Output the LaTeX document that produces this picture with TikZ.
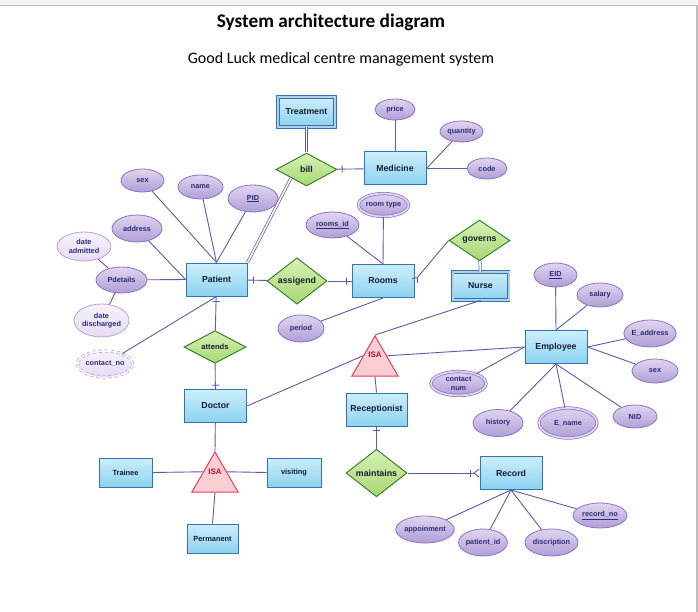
\documentclass[tikz,border=0pt]{standalone}
\usepackage{fontspec}
\setmainfont{Liberation Sans}
\newfontfamily\calibri{Carlito}
\usepackage{tikz}
\usetikzlibrary{arrows.meta, positioning, shapes.geometric}
\definecolor{edge}{RGB}{98,88,168}
\definecolor{entline}{RGB}{46,117,182}
\definecolor{enttop}{RGB}{204,238,251}
\definecolor{entbot}{RGB}{140,210,240}
\definecolor{reltop}{RGB}{216,241,180}
\definecolor{relbot}{RGB}{166,216,116}
\definecolor{relline}{RGB}{56,130,44}
\definecolor{atttop}{RGB}{224,213,241}
\definecolor{attbot}{RGB}{176,158,214}
\definecolor{attline}{RGB}{136,118,192}
\definecolor{lighttop}{RGB}{248,243,252}
\definecolor{lightbot}{RGB}{230,219,243}
\definecolor{lightline}{RGB}{184,163,214}
\definecolor{isafill}{RGB}{251,206,212}
\definecolor{isaline}{RGB}{222,64,90}
\definecolor{isatext}{RGB}{176,16,48}
\definecolor{atttext}{RGB}{40,46,116}
\definecolor{enttext}{RGB}{24,28,48}
\definecolor{framegray}{RGB}{244,244,244}
\definecolor{frameline}{RGB}{190,190,190}

\begin{document}
\begin{tikzpicture}[x=1pt, y=-1pt,
    entity/.style={draw=entline, line width=1pt, top color=enttop, bottom color=entbot,
        minimum width=62pt, minimum height=33pt, inner sep=1pt, text=enttext,
        font=\bfseries\fontsize{8.7}{10}\selectfont},
    subent/.style={entity, minimum width=53pt, minimum height=29pt,
        font=\bfseries\fontsize{7.4}{9}\selectfont},
    weak/.style={entity, double=entline!35, double distance=2pt, line width=0.8pt},
    rel/.style={diamond, draw=relline, line width=1pt, top color=reltop, bottom color=relbot,
        inner sep=0pt, minimum width=61pt, minimum height=33pt, text=enttext,
        font=\bfseries\fontsize{8.8}{10}\selectfont},
    attr/.style={ellipse, draw=attline, line width=0.8pt, top color=atttop, bottom color=attbot,
        inner sep=0pt, text=atttext, align=center,
        font=\bfseries\fontsize{7.3}{8.5}\selectfont},
    multi/.style={attr, double=atttop, double distance=1.8pt, line width=0.7pt},
    light/.style={attr, draw=lightline, top color=lighttop, bottom color=lightbot},
    sz/.style 2 args={minimum width=#1pt, minimum height=#2pt},
    isa/.style={regular polygon, regular polygon sides=3, draw=isaline, line width=1pt,
        fill=isafill, minimum size=53.4pt, inner sep=0pt},
    isalabel/.style={text=isatext, font=\bfseries\fontsize{8}{9}\selectfont},
    link/.style={draw=edge, line width=0.9pt},
    dbl/.style={draw=edge, double=white, double distance=1.6pt, line width=0.7pt},
    tick/.style={draw=edge, line width=0.9pt, inner sep=0pt, minimum width=0pt,
        minimum height=7pt, sloped}]

    % page frame
    \useasboundingbox (0,0) rectangle (698,612);
    \fill[framegray] (0,0) rectangle (698,5);
    \draw[frameline, line width=1.2pt] (0,5.5) -- (697,5.5) -- (697,612);

    % titles
    \node[font=\calibri\bfseries\fontsize{19.3}{23}\selectfont] (title) at (331,22.5) {System architecture diagram};
    \node[font=\calibri\fontsize{16}{19}\selectfont] (subtitle) at (341,59.5) {Good Luck medical centre management system};

    % entities
    \node[weak, sz={57}{30}] (treatment) at (306.5,112) {Treatment};
    \node[entity] (medicine) at (395,168.5) {Medicine};
    \node[entity, minimum width=61pt] (patient) at (216.5,279.5) {Patient};
    \node[entity] (rooms) at (383,281) {Rooms};
    \node[weak, sz={56}{28}] (nurse) at (480.5,286) {Nurse};
    \node[entity] (employee) at (556,347) {Employee};
    \node[entity] (doctor) at (215.5,406) {Doctor};
    \node[entity, minimum width=61pt] (receptionist) at (376.5,409.5) {Receptionist};
    \node[entity] (record) at (511,473) {Record};
    \node[subent] (trainee) at (125.5,472.5) {Trainee};
    \node[subent, minimum width=54pt] (visiting) at (294,472.5) {visiting};
    \node[subent, minimum width=51pt] (permanent) at (212.5,538.5) {Permanent};

    % relationships
    \node[rel] (bill) at (306.5,169.5) {bill};
    \node[rel, sz={60}{32}] (assigend) at (297,281) {assigend};
    \node[rel] (governs) at (479.5,240.5) {governs};
    \node[rel, sz={62}{32}, font=\bfseries\fontsize{7.6}{9}\selectfont] (attends) at (215,347) {attends};
    \node[rel, sz={61}{32}] (maintains) at (376.5,473) {maintains};

    % ISA triangles
    \node[isa] (isa1) at (375,362.7) {};
    \node[isalabel] (isa1text) at ([yshift=7.5pt]isa1.center) {ISA};
    \node[isa] (isa2) at (215,478.7) {};
    \node[isalabel] (isa2text) at ([yshift=6.5pt]isa2.center) {ISA};

    % medicine attributes
    \node[attr, sz={40}{21}] (price) at (395,109.5) {price};
    \node[attr, sz={43}{21}] (quantity) at (461.5,131.5) {quantity};
    \node[attr, sz={40}{21}] (code) at (487,168.5) {code};

    % patient attributes
    \node[attr, sz={43}{23}] (psex) at (142.5,180.5) {sex};
    \node[attr, sz={45}{24}] (pname) at (200.5,187) {name};
    \node[attr, sz={50}{27}] (pid) at (253,198.5) {\underline{PID}};
    \node[attr, sz={50}{27}] (address) at (137,228.5) {address};
    \node[light, sz={54}{29}] (dateadm) at (84,246.5) {date\\admitted};
    \node[attr, sz={51}{26}] (pdetails) at (121.5,280) {Pdetails};
    \node[light, sz={53}{33}] (datedis) at (101.5,320.5) {date\\discharged};
    \node[light, dashed, double=lighttop, double distance=1.8pt, line width=0.7pt, sz={50}{26}] (contactno) at (105,364) {contact\_no};

    % rooms attributes
    \node[attr, sz={53}{26}] (roomsid) at (332.5,225) {\underline{rooms\_id}};
    \node[multi, sz={50}{23}] (roomtype) at (383.5,205) {room type};
    \node[attr, sz={46}{27}] (period) at (301,328.5) {period};

    % employee attributes
    \node[attr, sz={43}{24}] (eid) at (555.5,275) {\underline{EID}};
    \node[attr, sz={46}{24}] (salary) at (600,295) {salary};
    \node[attr, sz={50}{27}] (eaddress) at (650,333.5) {E\_address};
    \node[attr, sz={46}{24}] (esex) at (655,371) {sex};
    \node[attr, sz={44}{23}] (nid) at (635,416.5) {NID};
    \node[multi, sz={58}{30}] (ename) at (568,423) {E\_name};
    \node[attr, sz={50}{27}] (history) at (498,423) {history};
    \node[multi, sz={55}{24}] (contactnum) at (458.5,383.5) {contact\\num};

    % record attributes
    \node[attr, sz={54}{25}] (recordno) at (600,515.5) {\underline{record\_no}};
    \node[attr, sz={54}{27}] (appoinment) at (425,529.5) {appoinment};
    \node[attr, sz={44}{27}] (patientid) at (483,542.5) {patient\_id};
    \node[attr, sz={53}{27}] (discription) at (551.5,542.5) {discription};

    % treatment / medicine
    \draw[dbl] (treatment) -- (bill);
    \draw[dbl] (bill.south west) -- (patient.north east);
    \draw[link] (bill) -- node[tick, pos=0.2]{} (medicine);
    \draw[link] (price) -- (medicine);
    \draw[link] (quantity) -- (medicine.east);
    \draw[link] (code) -- (medicine);

    % patient
    \draw[link] (psex) -- (patient.north);
    \draw[link] (pname) -- (patient.north);
    \draw[link] (pid) -- (patient.north);
    \draw[link] (address) -- (patient.west);
    \draw[link] (pdetails) -- (patient.west);
    \draw[link] (dateadm) -- (pdetails);
    \draw[link] (pdetails) -- (datedis);
    \draw[link] (contactno) -- (patient.south);
    \draw[link] (patient) -- node[tick, pos=0.3]{} (assigend);
    \draw[link] (assigend) -- node[tick, pos=0.8]{} (rooms);
    \draw[link] (patient) -- node[tick, pos=0.15]{} (attends);
    \draw[link] (attends) -- node[tick, pos=0.85]{} (doctor);

    % rooms / nurse
    \draw[link] (roomsid) -- (rooms.north);
    \draw[link] (roomtype) -- (rooms.north);
    \draw[link] (period) -- (rooms.south);
    \draw[link, -{Straight Barb[reversed, length=4pt, width=7pt]}] (governs.west) -- (rooms.east);
    \draw[dbl] (governs) -- (nurse);

    % upper ISA
    \draw[link] (nurse.south) -- (isa1.corner 1);
    \draw[link] (isa1.side 3) -- (employee.west);
    \draw[link] (doctor.east) -- (isa1.side 1);
    \draw[link] (isa1.side 2) -- (receptionist.north);
    \draw[link] (receptionist) -- node[tick, pos=0.17]{} (maintains);
    \draw[link, -{Bar[width=7pt, sep=2pt] Straight Barb[reversed, length=5pt, width=8pt]}] (maintains) -- (record);

    % employee
    \draw[link] (eid) -- (employee.north);
    \draw[link] (salary) -- (employee.north);
    \draw[link] (eaddress) -- (employee.east);
    \draw[link] (esex) -- (employee.east);
    \draw[link] (nid) -- (employee.south);
    \draw[link] (ename) -- (employee.south);
    \draw[link] (history) -- (employee.south);
    \draw[link] (contactnum) -- (employee.west);

    % record
    \draw[link] (recordno) -- (record.south);
    \draw[link] (appoinment) -- (record.south);
    \draw[link] (patientid) -- (record.south);
    \draw[link] (discription) -- (record.south);

    % lower ISA
    \draw[link] (doctor) -- (isa2.corner 1);
    \draw[link] (trainee.east) -- (isa2.side 1);
    \draw[link] (isa2.side 3) -- (visiting.west);
    \draw[link] (isa2.side 2) -- (permanent.north);

\end{tikzpicture}
\end{document}
